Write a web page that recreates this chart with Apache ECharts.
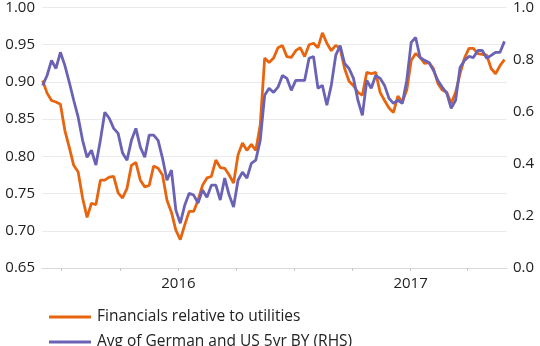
<!DOCTYPE html>
<html>
<head>
<meta charset="utf-8">
<script src="https://cdn.jsdelivr.net/npm/echarts@6/dist/echarts.min.js"></script>
<style>
html,body{margin:0;padding:0;background:#fff;}
#chart{width:540px;height:346px;}
</style>
</head>
<body>
<div id="chart"></div>
<script>
// Weekly observations starting Monday 2015-06-01
const startDate = '2015-06-01';

// Financials relative to utilities (left axis)
const financials = [
  0.902, 0.885, 0.875, 0.873, 0.870, 0.835, 0.812, 0.788, 0.779, 0.744,
  0.718, 0.737, 0.735, 0.768, 0.768, 0.772, 0.773, 0.751, 0.744, 0.757,
  0.788, 0.792, 0.768, 0.759, 0.761, 0.787, 0.784, 0.775, 0.741, 0.725,
  0.701, 0.688, 0.708, 0.726, 0.726, 0.741, 0.761, 0.771, 0.773, 0.795,
  0.785, 0.784, 0.775, 0.764, 0.802, 0.818, 0.808, 0.816, 0.808, 0.842,
  0.932, 0.926, 0.932, 0.946, 0.949, 0.934, 0.933, 0.942, 0.946, 0.934,
  0.950, 0.952, 0.946, 0.966, 0.952, 0.942, 0.949, 0.945, 0.918, 0.901,
  0.895, 0.886, 0.882, 0.913, 0.911, 0.913, 0.886, 0.875, 0.865, 0.859,
  0.881, 0.873, 0.889, 0.929, 0.938, 0.933, 0.925, 0.926, 0.918, 0.898,
  0.889, 0.886, 0.871, 0.886, 0.911, 0.932, 0.945, 0.945, 0.938, 0.937,
  0.936, 0.918, 0.911, 0.922, 0.930
];

// Avg of German and US 5yr BY (right axis)
const bondYield = [
  0.701, 0.739, 0.797, 0.766, 0.828, 0.778, 0.713, 0.644, 0.579, 0.490,
  0.425, 0.452, 0.395, 0.490, 0.598, 0.575, 0.536, 0.517, 0.441, 0.414,
  0.490, 0.536, 0.464, 0.425, 0.510, 0.510, 0.490, 0.421, 0.337, 0.376,
  0.222, 0.172, 0.241, 0.287, 0.280, 0.249, 0.299, 0.272, 0.318, 0.318,
  0.261, 0.345, 0.280, 0.234, 0.337, 0.368, 0.345, 0.402, 0.414, 0.490,
  0.663, 0.690, 0.674, 0.694, 0.739, 0.728, 0.682, 0.720, 0.720, 0.720,
  0.805, 0.812, 0.690, 0.701, 0.625, 0.701, 0.816, 0.854, 0.785, 0.766,
  0.728, 0.644, 0.586, 0.720, 0.690, 0.739, 0.728, 0.701, 0.651, 0.632,
  0.644, 0.632, 0.720, 0.866, 0.885, 0.808, 0.797, 0.789, 0.759, 0.720,
  0.694, 0.671, 0.613, 0.644, 0.770, 0.797, 0.812, 0.808, 0.835, 0.835,
  0.805, 0.816, 0.828, 0.828, 0.870
];

const leftTicks = [0.65, 1.00];
const rightTicks = [0.0, 1.0];
const quarterTicks = ['2015-07-01','2015-10-01','2016-01-01','2016-04-01','2016-07-01','2016-10-01','2017-01-01','2017-04-01'];
const yearLabels = ['2016-01-01','2017-01-01'];
const seriesNames = ['Financials relative to utilities', 'Avg of German and US 5yr BY (RHS)'];

const DAY = 86400000;
const t0 = Date.parse(startDate);
const toPairs = arr => arr.map((v, i) => [t0 + i * 7 * DAY, v]);

const font = '"Open Sans", "Noto Sans", sans-serif';
const legendBase = {
  orient: 'vertical', left: 44,
  itemWidth: 42, itemHeight: 3, itemGap: 10,
  icon: 'rect',
  textStyle: {fontFamily: font, fontSize: 15.5, color: '#222', padding: [0,0,0,1]}
};
const chart = echarts.init(document.getElementById('chart'), null, {renderer: 'canvas'});
chart.setOption({
  animation: false,
  backgroundColor: '#fff',
  grid: {left: 42, right: 33, top: 7, bottom: 78, containLabel: false},
  legend: [
    Object.assign({}, legendBase, {top: 304, data: [seriesNames[0]]}),
    Object.assign({}, legendBase, {top: 329, data: [seriesNames[1]]})
  ],
  xAxis: {
    type: 'value',
    min: Date.parse('2015-05-31'),
    max: Date.parse('2017-06-02'),
    axisLine: {lineStyle: {color: '#d9d9d9', width: 1}},
    axisTick: {show: true, length: 3, lineStyle: {color: '#c8c8c8'}, customValues: quarterTicks.map(Date.parse)},
    axisLabel: {
      customValues: yearLabels.map(Date.parse),
      formatter: v => String(new Date(v).getUTCFullYear()),
      fontFamily: font, fontSize: 15, color: '#222', margin: 8
    },
    splitLine: {show: false}
  },
  yAxis: [
    {
      type: 'value', min: leftTicks[0], max: leftTicks[1], interval: 0.05,
      axisLine: {show: false}, axisTick: {show: false},
      axisLabel: {formatter: v => v.toFixed(2), fontFamily: font, fontSize: 15, color: '#222', margin: 7},
      splitLine: {lineStyle: {color: '#ebebeb', width: 1}}
    },
    {
      type: 'value', min: rightTicks[0], max: rightTicks[1], interval: 0.2,
      axisLine: {show: false}, axisTick: {show: false},
      axisLabel: {formatter: v => v.toFixed(1), fontFamily: font, fontSize: 15, color: '#222', margin: 6},
      splitLine: {show: false}
    }
  ],
  series: [
    {
      name: seriesNames[0], type: 'line', yAxisIndex: 0, data: toPairs(financials),
      showSymbol: false, symbol: 'none', color: '#E8650F',
      lineStyle: {width: 2.8, color: '#E8650F'}, z: 2
    },
    {
      name: seriesNames[1], type: 'line', yAxisIndex: 1, data: toPairs(bondYield),
      showSymbol: false, symbol: 'none', color: '#6A62B4',
      lineStyle: {width: 2.8, color: '#6A62B4'}, z: 3
    }
  ]
});
</script>
</body>
</html>
